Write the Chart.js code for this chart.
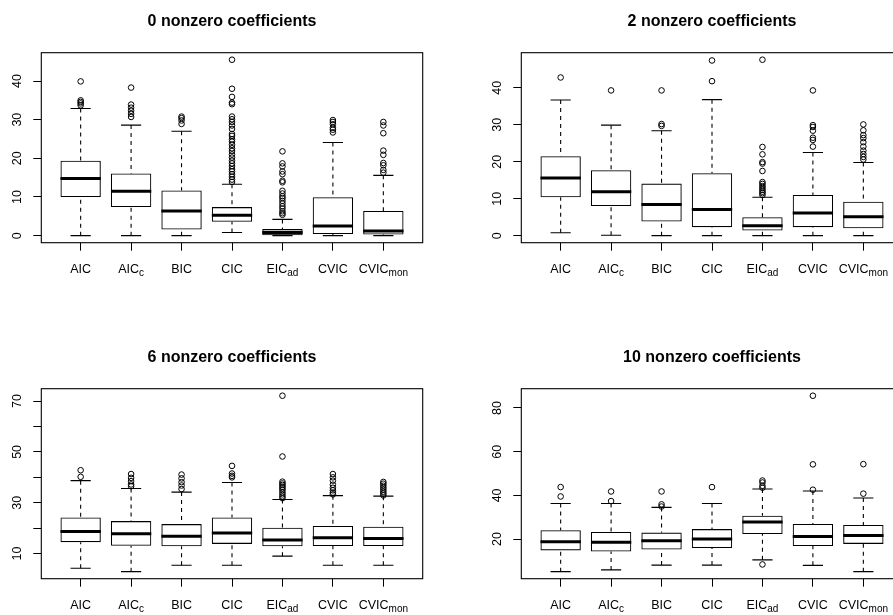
<!DOCTYPE html>
<html>
<head>
<meta charset="utf-8">
<script src="https://cdn.jsdelivr.net/npm/chart.js@4.4.1/dist/chart.umd.min.js"></script>
<style>
html,body{margin:0;padding:0;background:#fff;overflow:hidden;width:893px;height:615px;position:relative}
canvas{position:absolute}
</style>
</head>
<body>
<canvas id="c0" width="480" height="336" style="left:-40px;top:0px;width:480px;height:336px"></canvas>
<canvas id="c1" width="480" height="336" style="left:440px;top:0px;width:480px;height:336px"></canvas>
<canvas id="c2" width="480" height="336" style="left:-40px;top:336px;width:480px;height:336px"></canvas>
<canvas id="c3" width="480" height="336" style="left:440px;top:336px;width:480px;height:336px"></canvas>
<script>
// ---- categories ----
const methods    = ['AIC', 'AIC', 'BIC', 'CIC', 'EIC', 'CVIC', 'CVIC'];
const methodSubs = ['',    'c',   '',    '',    'ad',  '',     'mon'];
const titles = ['0 nonzero coefficients', '2 nonzero coefficients', '6 nonzero coefficients', '10 nonzero coefficients'];

// ---- panel 0: 0 nonzero coefficients ----
const p0Low = [0, 0, 0, 0.8, 0, 0, 0];
const p0Q1  = [10.0, 7.4, 1.6, 3.6, 0.1, 0.4, 0.3];
const p0Med = [14.8, 11.5, 6.4, 5.3, 0.8, 2.5, 1.2];
const p0Q3  = [19.4, 16.1, 11.7, 7.4, 1.7, 9.95, 6.4];
const p0High = [32.9, 28.6, 27.0, 13.3, 4.2, 24.1, 15.6];
const p0Out = [
  [39.9, 35.0, 34.6, 34.2, 33.7],
  [38.3, 33.9, 33.1, 32.3, 31.5, 30.7],
  [30.8, 30.4, 29.8, 28.9],
  [45.5, 38.0, 35.9, 34.4, 34.0, 30.8, 30.1, 29.4, 28.5, 27.6, 26.3, 25.8, 24.9, 24.3, 23.5, 22.6, 21.9, 21.0, 20.2, 19.4, 18.7, 18.0, 17.2, 16.6, 15.9, 15.2, 14.5, 13.9],
  [21.8, 18.7, 17.9, 16.6, 15.9, 14.2, 13.8, 11.6, 10.9, 10.2, 9.7, 9.0, 8.3, 7.6, 7.0, 6.3, 5.8, 5.4],
  [29.9, 29.4, 28.8, 27.9, 27.4, 26.7],
  [29.4, 28.5, 26.5, 22.0, 20.9, 18.8, 18.2, 17.0, 16.3]
];
const p0Ticks = [0, 10, 20, 30, 40];
const p0Labels = [0, 10, 20, 30, 40];

// ---- panel 1: 2 nonzero coefficients ----
const p1Low = [0.8, 0.1, 0, 0, 0, 0, 0];
const p1Q1  = [10.4, 8.0, 3.8, 2.3, 1.4, 2.3, 2.0];
const p1Med = [15.6, 11.9, 8.4, 7.1, 2.7, 6.1, 5.1];
const p1Q3  = [21.5, 17.7, 14.1, 16.9, 5.0, 11.0, 9.2];
const p1High = [36.7, 29.9, 28.4, 36.8, 10.4, 22.5, 19.8];
const p1Out = [
  [42.8],
  [39.3],
  [39.3, 30.2, 29.7],
  [47.4, 41.8],
  [47.6, 24.0, 22.0, 19.9, 19.5, 17.5, 14.5, 14.0, 13.4, 12.9, 12.4, 11.9, 11.5, 11.0],
  [39.3, 29.9, 29.4, 28.4, 26.5, 25.9, 24.1],
  [30.1, 28.5, 27.2, 26.4, 25.3, 24.1, 23.0, 22.1, 21.3, 20.6]
];
const p1Ticks = [0, 10, 20, 30, 40];
const p1Labels = [0, 10, 20, 30, 40];

// ---- panel 2: 6 nonzero coefficients ----
const p2Low = [4.25, 2.9, 5.4, 5.4, 9.0, 5.4, 5.4];
const p2Q1  = [14.5, 13.1, 12.9, 13.8, 12.9, 13.0, 13.0];
const p2Med = [18.7, 17.8, 16.8, 18.1, 15.4, 16.2, 15.9];
const p2Q3  = [24.2, 22.8, 21.6, 24.2, 20.2, 20.9, 20.6];
const p2High = [38.7, 35.6, 34.2, 38.0, 31.3, 32.8, 32.6];
const p2Out = [
  [42.8, 40.2],
  [41.3, 39.8, 38.5, 37.2, 36.5],
  [41.1, 39.6, 38.1, 36.8, 35.4],
  [44.5, 41.5, 40.6, 40.0],
  [72.1, 48.2, 38.3, 37.6, 37.0, 36.3, 35.7, 35.0, 34.1, 33.3, 32.5, 31.8],
  [41.3, 40.0, 38.7, 37.1, 35.9, 34.9, 34.0, 33.3],
  [38.2, 37.5, 36.7, 35.9, 35.1, 34.3, 33.6, 32.9]
];
const p2Ticks = [10, 20, 30, 40, 50, 60, 70];
const p2Labels = [10, 30, 50, 70];

// ---- panel 3: 10 nonzero coefficients ----
const p3Low = [5.1, 5.9, 8.1, 8.1, 10.5, 8.0, 5.1];
const p3Q1  = [14.8, 14.3, 15.2, 15.9, 22.3, 16.8, 17.8];
const p3Med = [18.8, 18.6, 19.2, 20.1, 27.8, 21.2, 21.7];
const p3Q3  = [24.1, 23.3, 23.0, 24.6, 30.7, 26.9, 26.5];
const p3High = [36.3, 36.3, 34.5, 36.3, 42.9, 42.0, 38.8];
const p3Out = [
  [43.8, 39.5],
  [41.8, 37.4],
  [41.8, 35.9, 34.9],
  [43.8],
  [46.8, 45.9, 44.4, 43.5, 8.4],
  [85.6, 54.2, 42.6],
  [54.3, 40.8]
];
const p3Ticks = [20, 40, 60, 80];
const p3Labels = [20, 40, 60, 80];

const FONT = '"Liberation Sans", Arial, Helvetica, sans-serif';
Chart.defaults.font.family = FONT;
Chart.defaults.color = '#000';

const panelText = {
  id: 'panelText',
  afterDraw(chart, args, opts) {
    const {ctx, chartArea: a, scales} = chart;
    ctx.save();
    ctx.strokeStyle = '#000';
    ctx.lineWidth = 1.1;
    ctx.strokeRect(a.left, a.top, a.right - a.left, a.bottom - a.top);
    ctx.fillStyle = '#000';
    ctx.textBaseline = 'alphabetic';
    ctx.textAlign = 'center';
    ctx.font = 'bold 16px ' + FONT;
    ctx.fillText(opts.title, (a.left + a.right) / 2, a.top - 26.3);
    const mainFont = '12.5px ' + FONT;
    const subFont = '10px ' + FONT;
    ctx.textAlign = 'left';
    methods.forEach((m, i) => {
      const x = scales.x.getPixelForValue(i + 1);
      ctx.font = mainFont;
      const w1 = ctx.measureText(m).width;
      let w2 = 0;
      if (methodSubs[i]) { ctx.font = subFont; w2 = ctx.measureText(methodSubs[i]).width; }
      const start = x - (w1 + w2) / 2;
      const base = a.bottom + 30.3;
      ctx.font = mainFont;
      ctx.fillText(m, start, base);
      if (methodSubs[i]) { ctx.font = subFont; ctx.fillText(methodSubs[i], start + w1, base + 2.7); }
    });
    ctx.restore();
  }
};

function buildPanel(id, title, lo, q1, med, q3, hi, out, yTicks, yLabels) {
  const xs = methods.map((m, i) => i + 1);
  const all = lo.concat(hi, out.flat());
  const dmin = Math.min(...all), dmax = Math.max(...all);
  const ext = (dmax - dmin) * 0.04;
  const xmin = 0.5 - 0.04 * xs.length, xmax = xs.length + 0.5 + 0.04 * xs.length;

  const medianData = [], boxData = [], whiskerData = [], capData = [], outData = [];
  xs.forEach((x, i) => {
    medianData.push({x: x - 0.4, y: med[i]}, {x: x + 0.4, y: med[i]}, {x: x, y: null});
    boxData.push({x: x, y: [q1[i], q3[i]]});
    whiskerData.push({x: x, y: hi[i]}, {x: x, y: q3[i]}, {x: x, y: null},
                     {x: x, y: lo[i]}, {x: x, y: q1[i]}, {x: x, y: null});
    capData.push({x: x - 0.2, y: hi[i]}, {x: x + 0.2, y: hi[i]}, {x: x, y: null},
                 {x: x - 0.2, y: lo[i]}, {x: x + 0.2, y: lo[i]}, {x: x, y: null});
    out[i].forEach(v => outData.push({x: x, y: v}));
  });

  const tickGrid = {display: true, drawOnChartArea: false, drawTicks: true, tickLength: 8, color: '#000', lineWidth: 1, offset: false};

  return new Chart(document.getElementById(id), {
    type: 'scatter',
    data: {
      datasets: [
        {type: 'line', data: medianData, borderColor: '#000', borderWidth: 3, pointRadius: 0, spanGaps: false, fill: false, tension: 0, borderCapStyle: 'butt'},
        {type: 'bar', data: boxData, backgroundColor: 'rgba(255,255,255,0)', borderColor: '#000', borderWidth: 1.1, borderSkipped: false, barPercentage: 0.8, categoryPercentage: 1.0},
        {type: 'line', data: whiskerData, borderColor: '#000', borderWidth: 1.1, borderDash: [4, 4], pointRadius: 0, spanGaps: false, fill: false, tension: 0},
        {type: 'line', data: capData, borderColor: '#000', borderWidth: 1.1, pointRadius: 0, spanGaps: false, fill: false, tension: 0},
        {type: 'scatter', data: outData, pointStyle: 'circle', pointRadius: 2.8, pointBorderWidth: 1, borderColor: '#000', backgroundColor: 'rgba(0,0,0,0)', pointBackgroundColor: 'rgba(0,0,0,0)', pointBorderColor: '#000', showLine: false}
      ]
    },
    options: {
      responsive: false,
      animation: false,
      devicePixelRatio: 1,
      layout: {padding: {left: 41.3, right: 17.3, top: 52.7, bottom: 53.3}},
      plugins: {legend: {display: false}, tooltip: {enabled: false}, title: {display: false}, panelText: {title: title}},
      scales: {
        x: {
          type: 'linear', min: xmin, max: xmax, offset: false,
          afterBuildTicks: s => { s.ticks = xs.map(v => ({value: v})); },
          afterFit: s => { s.height = 40; },
          ticks: {display: true, autoSkip: false, maxRotation: 0, callback: () => ''},
          grid: tickGrid,
          border: {display: false}
        },
        y: {
          type: 'linear', min: dmin - ext, max: dmax + ext,
          afterBuildTicks: s => { s.ticks = yTicks.map(v => ({value: v})); },
          afterFit: s => { s.width = 40; },
          ticks: {autoSkip: false, minRotation: 90, maxRotation: 90, crossAlign: 'center', padding: 9, color: '#000',
                  font: {size: 12.5, family: FONT},
                  callback: v => yLabels.includes(v) ? String(v) : ''},
          grid: tickGrid,
          border: {display: false}
        }
      }
    },
    plugins: [panelText]
  });
}

buildPanel('c0', titles[0], p0Low, p0Q1, p0Med, p0Q3, p0High, p0Out, p0Ticks, p0Labels);
buildPanel('c1', titles[1], p1Low, p1Q1, p1Med, p1Q3, p1High, p1Out, p1Ticks, p1Labels);
buildPanel('c2', titles[2], p2Low, p2Q1, p2Med, p2Q3, p2High, p2Out, p2Ticks, p2Labels);
buildPanel('c3', titles[3], p3Low, p3Q1, p3Med, p3Q3, p3High, p3Out, p3Ticks, p3Labels);
</script>
</body>
</html>
